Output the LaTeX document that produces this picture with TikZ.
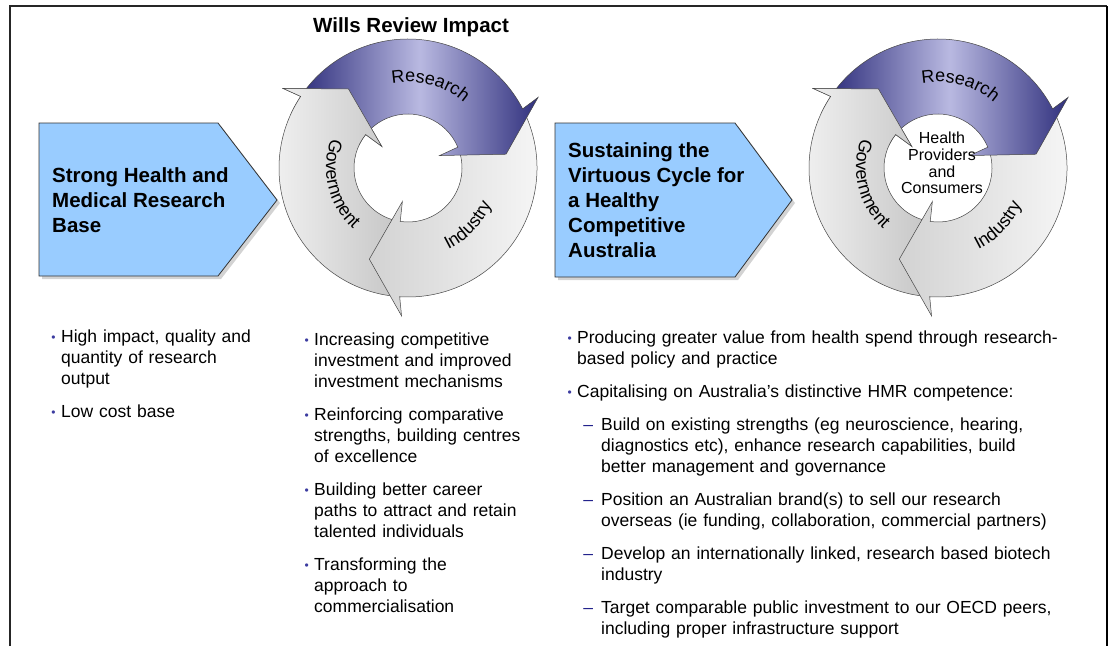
\documentclass[tikz,border=0pt]{standalone}
\usepackage{fontspec}
\setmainfont{Liberation Sans}
\usepackage{tikz}
\usetikzlibrary{decorations.text,shadows}

\definecolor{boxblue}{RGB}{153,204,255}
\definecolor{resdark}{RGB}{48,48,125}
\definecolor{reslight}{RGB}{185,185,225}
\definecolor{bulletblue}{RGB}{60,60,160}
\definecolor{dashblue}{RGB}{35,35,140}

% ring piece with arrow head: tail angle, head angle
\newcommand{\ringarrow}[2]{%
  (#1-1.8:129) arc[start angle=#1-1.8, end angle=#2-1.8, radius=129]
  -- (#2-3:148) -- (#2+17.5:99) -- (#2+4:34) -- (#2+2.8:54)
  arc[start angle=#2+2.8, end angle=#1+2.8, radius=54] -- cycle}
\newcommand{\cyclefont}{\fontsize{18}{18}\selectfont}
\newcommand{\bul}{\leavevmode\llap{\textcolor{bulletblue}{\raisebox{1.2pt}{\fontsize{12}{12}\selectfont\textbullet}}\hspace{5.5pt}}\rule{0pt}{13pt}}
\newcommand{\dsh}{\leavevmode\llap{\textcolor{dashblue}{–}\hspace{8pt}}\rule{0pt}{13pt}}

\begin{document}
\begin{tikzpicture}[x=1pt, y=-1pt,
    govt/.style={draw=gray!55!black, line width=0.5pt, left color=gray!12, right color=gray!45},
    indus/.style={draw=gray!55!black, line width=0.5pt, left color=gray!35, right color=gray!5},
    resrch/.style={draw=gray!55!black, line width=0.5pt, left color=resdark, right color=resdark, middle color=reslight},
    cyclelabel/.style={decorate, decoration={text along path, text align=center, text={#1}}},
    hmrbox/.style={draw=black!80, line width=0.8pt, fill=boxblue,
      drop shadow={shadow xshift=3pt, shadow yshift=-3pt, opacity=0.35}},
    boxtext/.style={anchor=west, inner sep=0pt, align=left, font=\bfseries\fontsize{20.5}{25}\selectfont},
    item/.style={anchor=north west, inner sep=0pt, text width=530pt, align=left, font=\fontsize{17.5}{21.2}\selectfont},
    pics/hmrcycle/.style={code={
        % government under industry head, industry under research head
        \draw[govt] \ringarrow{95.5}{215.5};
        \draw[indus] \ringarrow{-25.5}{95.5};
        \draw[resrch] \ringarrow{215.5}{334.5};
        % government head again, on top of the research tail
        \begin{scope}
          \clip (0,0) -- (205:170) arc[start angle=205, end angle=250, radius=170] -- cycle;
          \draw[govt] \ringarrow{95.5}{215.5};
        \end{scope}
        \path[cyclelabel={|\cyclefont|Research}] (-115:86) arc[start angle=-115, end angle=-35, radius=86];
        \path[cyclelabel={|\cyclefont|Government}] (216.5:82) arc[start angle=216.5, end angle=116.5, radius=82];
        \path[cyclelabel={|\cyclefont|Industry}] (83.6:91) arc[start angle=83.6, end angle=3.6, radius=91];
    }}]
  \useasboundingbox (0,0) rectangle (1108,646);

  % frame
  \draw[gray!30!black, line width=1.5pt] (10,646) -- (10,6) -- (1107,6);
  \draw[black, line width=1.8pt] (1107,6) -- (1107,646);

  % left arrow box
  \draw[hmrbox] (39,123) -- (218,123) -- (277,200) -- (218,276) -- (39,276) -- cycle;
  \node[boxtext] (strong) at (52,200) {Strong Health and\\Medical Research\\Base};

  % first cycle
  \node[font=\bfseries\fontsize{20.5}{24}\selectfont, anchor=base] (title) at (411,32) {Wills Review Impact};
  \pic (wills) at (408,168) {hmrcycle};

  % right arrow box
  \draw[hmrbox] (555,123) -- (735,123) -- (792,200) -- (735,277) -- (555,277) -- cycle;
  \node[boxtext] (sustain) at (568,200) {Sustaining the\\Virtuous Cycle for\\a Healthy\\Competitive\\Australia};

  % second cycle
  \pic (virtuous) at (938,168) {hmrcycle};
  \node[align=center, inner sep=0pt, font=\fontsize{16}{16.7}\selectfont] (hpc) at (942,163) {Health\\Providers\\and\\Consumers};

  % bullet lists
  \node[item] (impact) at (61,329) {\bul High impact, quality and\\quantity of research\\output};
  \node[item] (lowcost) at (61,404) {\bul Low cost base};

  \node[item] (invest) at (314,332) {\bul Increasing competitive\\investment and improved\\investment mechanisms};
  \node[item] (reinforce) at (314,407) {\bul Reinforcing comparative\\strengths, building centres\\of excellence};
  \node[item] (career) at (314,482) {\bul Building better career\\paths to attract and retain\\talented individuals};
  \node[item] (commerce) at (314,557) {\bul Transforming the\\approach to\\commercialisation};

  \node[item] (value) at (577,330) {\bul Producing greater value from health spend through research-\\based policy and practice};
  \node[item] (capital) at (577,384) {\bul Capitalising on Australia’s distinctive HMR competence:};
  \node[item] (build) at (601,417) {\dsh Build on existing strengths (eg neuroscience, hearing,\\diagnostics etc), enhance research capabilities, build\\better management and governance};
  \node[item] (brand) at (601,492) {\dsh Position an Australian brand(s) to sell our research\\overseas (ie funding, collaboration, commercial partners)};
  \node[item] (biotech) at (601,546) {\dsh Develop an internationally linked, research based biotech\\industry};
  \node[item] (oecd) at (601,600) {\dsh Target comparable public investment to our OECD peers,\\including proper infrastructure support};
\end{tikzpicture}
\end{document}
